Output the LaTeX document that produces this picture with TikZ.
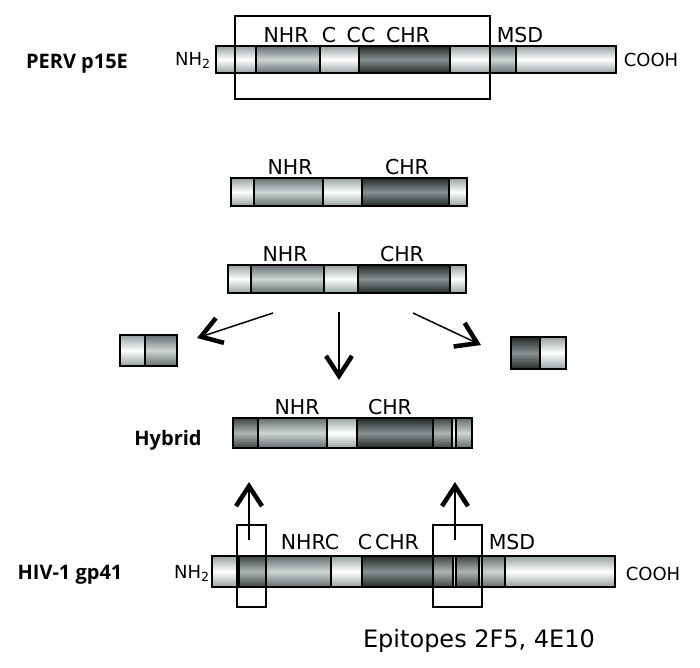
\documentclass[tikz,border=0pt]{standalone}
\usepackage{fontspec}
\setmainfont{DejaVu Sans}
\newfontfamily\labfont{Open Sans}
\usetikzlibrary{arrows.meta, positioning}
\definecolor{ltedge}{RGB}{150,162,162}
\definecolor{midedge}{RGB}{100,110,110}
\definecolor{midcore}{RGB}{205,212,212}
\definecolor{mdkedge}{RGB}{60,68,68}
\definecolor{mdkcore}{RGB}{172,180,180}
\definecolor{dkedge}{RGB}{35,40,40}
\definecolor{dkcore}{RGB}{135,145,145}
\tikzset{
    segLight/.style={draw=black, line width=1.6pt, top color=ltedge, bottom color=ltedge, middle color=white},
    segMid/.style={draw=black, line width=1.6pt, top color=midedge, bottom color=midedge, middle color=midcore},
    segMidDark/.style={draw=black, line width=1.6pt, top color=mdkedge, bottom color=mdkedge, middle color=mdkcore},
    segDark/.style={draw=black, line width=1.6pt, top color=dkedge, bottom color=dkedge, middle color=dkcore},
    regionbox/.style={draw=black, line width=1.4pt},
    seglab/.style={font=\fontsize{20.5}{24}\selectfont, anchor=base, inner sep=0pt},
    endlab/.style={font=\fontsize{18}{22}\selectfont, anchor=base, inner sep=0pt},
    protlab/.style={font=\labfont\bfseries\fontsize{20}{24}\selectfont, anchor=base, inner sep=0pt},
    arrow/.style={line width=1.5pt, -{Straight Barb[length=20pt, width=26pt, line width=4.5pt 0 1]}}
}
% one bar = row of shaded segments
\newcommand{\segbar}[3]{\foreach \a/\b/\s in {#3} \shadedraw[\s] (\a,#1) rectangle (\b,#2);}

\begin{document}
\begin{tikzpicture}[x=1pt, y=-1pt]
    \useasboundingbox (0,0) rectangle (700,667);

    % PERV p15E
    \segbar{46}{73}{216/235/segLight, 235/256/segLight, 256/320/segMid, 320/359/segLight, 359/450/segDark, 450/490/segLight, 490/516/segMid, 516/616/segLight}
    \draw[regionbox] (235,16) rectangle (490,99);
    \node[protlab] (perv) at (77,68) {PERV p15E};
    \node[endlab] (pervN) at (193,65) {NH\textsubscript{2}};
    \node[endlab] (pervC) at (651,66) {COOH};
    \node[seglab] (pervNHR) at (286,42) {NHR};
    \node[seglab] (pervC1) at (329,42) {C};
    \node[seglab] (pervCC) at (361,42) {CC};
    \node[seglab] (pervCHR) at (408,42) {CHR};
    \node[seglab] (pervMSD) at (520,42) {MSD};

    % fragments
    \segbar{178}{206}{231/254/segLight, 254/323/segMid, 323/362/segLight, 362/449/segDark, 449/467/segLight}
    \node[seglab] (frag1NHR) at (290,174) {NHR};
    \node[seglab] (frag1CHR) at (407,174) {CHR};

    \segbar{265}{293}{228/251/segLight, 251/324/segMid, 324/358/segLight, 358/450/segDark, 450/466/segLight}
    \node[seglab] (frag2NHR) at (285,261) {NHR};
    \node[seglab] (frag2CHR) at (402,261) {CHR};

    \segbar{335}{366}{120/145/segLight, 145/177/segMid}
    \segbar{337}{369}{511/540/segDark, 540/566/segLight}

    % hybrid
    \segbar{418}{448}{233/258/segMidDark, 258/327/segMid, 327/357/segLight, 357/433/segDark, 433/452/segMidDark, 452/456/segLight, 456/472/segMid}
    \node[protlab] (hyb) at (168,445) {Hybrid};
    \node[seglab] (hybNHR) at (297,414) {NHR};
    \node[seglab] (hybCHR) at (390,414) {CHR};

    % HIV-1 gp41
    \segbar{556}{587}{212/237/segLight, 237/239/segLight, 239/266/segMidDark, 266/331/segMid, 331/362/segLight, 362/433/segDark, 433/453/segMidDark, 453/456/segLight, 456/479/segMidDark, 479/482/segLight, 482/505/segMid, 505/615/segLight}
    \draw[regionbox] (237,525) rectangle (266,607);
    \draw[regionbox] (433,525) rectangle (482,607);
    \node[protlab] (hiv) at (70,579) {HIV-1 gp41};
    \node[endlab] (hivN) at (192,578) {NH\textsubscript{2}};
    \node[endlab] (hivC) at (653,580) {COOH};
    \node[seglab] (hivNHRC) at (310,549) {NHRC};
    \node[seglab] (hivC1) at (365,549) {C};
    \node[seglab] (hivCHR) at (397,549) {CHR};
    \node[seglab] (hivMSD) at (512,549) {MSD};
    \node[font=\fontsize{24}{28}\selectfont, anchor=base, inner sep=0pt] (epi) at (479,647) {Epitopes 2F5, 4E10};

    % arrows
    \coordinate (cutL) at (273,313);
    \coordinate (cutM) at (339,312);
    \coordinate (cutR) at (413,313);
    \coordinate (toL) at (197,338);
    \coordinate (toM) at (339,380);
    \coordinate (toR) at (481,345);
    \coordinate (epiL) at (249,540);
    \coordinate (epiR) at (455,540);
    \coordinate (upL) at (249,482);
    \coordinate (upR) at (455,482);
    \draw[arrow] (cutL) -- (toL);
    \draw[arrow] (cutM) -- (toM);
    \draw[arrow] (cutR) -- (toR);
    \draw[arrow] (epiL) -- (upL);
    \draw[arrow] (epiR) -- (upR);
\end{tikzpicture}
\end{document}
